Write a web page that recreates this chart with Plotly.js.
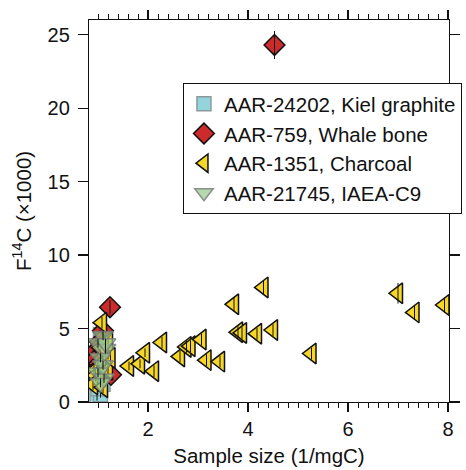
<!DOCTYPE html>
<html>
<head>
<meta charset="utf-8">
<script src="https://cdn.plot.ly/plotly-3.0.1.min.js"></script>
<style>html,body{margin:0;padding:0;background:#fff;}#chart{width:466px;height:470px;}</style>
</head>
<body>
<div id="chart"></div>
<script>
// Kiel graphite
var kielX = [0.98, 1.05, 1.00, 1.10, 0.95, 1.05, 1.10, 1.00, 1.12, 1.05];
var kielY = [0.3, 0.5, 0.9, 1.2, 1.6, 2.2, 3.0, 3.6, 4.3, 4.6];
var kielErr = [0.2, 0.2, 0.2, 0.2, 0.2, 0.2, 0.2, 0.2, 0.2, 0.2];
// Whale bone
var whaleX = [4.53, 1.24, 1.10, 1.04, 0.96, 1.08, 0.92, 1.02, 1.26];
var whaleY = [24.3, 6.45, 4.85, 4.1, 3.5, 3.3, 2.8, 2.6, 1.85];
var whaleErr = [0.95, 0.5, 0.4, 0.4, 0.4, 0.4, 0.4, 0.4, 0.4];
// Charcoal
var charX = [1.08, 1.20, 1.20, 1.15, 1.00, 0.92, 0.95, 1.05, 0.90, 1.10, 1.20, 1.05, 1.25,
             1.62, 1.84, 1.94, 2.12, 2.28, 2.64, 2.77, 2.85, 3.07, 3.17, 3.44, 3.72, 3.80, 3.88,
             4.18, 4.31, 4.50, 5.27, 7.00, 7.33, 7.93];
var charY = [5.4, 4.1, 3.3, 2.8, 2.4, 2.1, 1.8, 1.5, 1.2, 1.0, 2.2, 3.7, 3.0,
             2.45, 2.6, 3.35, 2.1, 4.05, 3.1, 3.75, 3.8, 4.25, 2.85, 2.75, 6.65, 4.75, 4.7,
             4.65, 7.8, 4.9, 3.3, 7.4, 6.1, 6.6];
var charErr = [0.4, 0.4, 0.4, 0.4, 0.4, 0.4, 0.4, 0.4, 0.4, 0.4, 0.4, 0.4, 0.4,
               0.3, 0.3, 0.3, 0.4, 0.4, 0.4, 0.4, 0.4, 0.4, 0.4, 0.4, 0.5, 0.4, 0.4,
               0.4, 0.5, 0.4, 0.4, 0.7, 0.5, 0.5];
// IAEA-C9
var c9X = [1.10, 1.00, 1.15, 1.05, 1.10, 1.00, 1.12, 1.05, 1.15];
var c9Y = [4.5, 4.0, 3.6, 3.0, 2.5, 2.0, 1.6, 1.3, 4.0];
var c9Err = [0.3, 0.3, 0.3, 0.3, 0.3, 0.3, 0.3, 0.3, 0.3];

var seriesNames = ['AAR-24202, Kiel graphite', 'AAR-759, Whale bone', 'AAR-1351, Charcoal', 'AAR-21745, IAEA-C9'];

var groups = [
  {x: kielX, y: kielY, e: kielErr, name: seriesNames[0],
   marker: {symbol: 'square', size: 14, color: '#93d4dd', line: {color: '#8a9a9c', width: 1.5}}},
  {x: whaleX, y: whaleY, e: whaleErr, name: seriesNames[1],
   marker: {symbol: 'diamond', size: 16, color: '#cc2b2b', line: {color: '#111', width: 1.5}}},
  {x: charX, y: charY, e: charErr, name: seriesNames[2],
   marker: {symbol: 'triangle-left', size: 18, color: '#f7d62a', line: {color: '#111', width: 1.5}}},
  {x: c9X, y: c9Y, e: c9Err, name: seriesNames[3],
   marker: {symbol: 'triangle-down', size: 18, color: 'rgba(150,200,140,0.7)', line: {color: 'rgba(120,120,120,0.8)', width: 1.5}}}
];

var traces = [];
groups.forEach(function (g) {
  traces.push({x: g.x, y: g.y, name: g.name, mode: 'markers', type: 'scatter', marker: g.marker});
  // error bars drawn on top of the markers
  traces.push({x: g.x, y: g.y, name: g.name, mode: 'markers', type: 'scatter', showlegend: false,
               marker: {size: 1, opacity: 0},
               error_y: {type: 'data', array: g.e, visible: true, color: '#111', thickness: 1, width: 0}});
});

var font = 'Liberation Sans, Arial, Helvetica, sans-serif';
var layout = {
  width: 466, height: 470,
  margin: {l: 89, r: 17, t: 20, b: 68, autoexpand: false},
  paper_bgcolor: '#fff', plot_bgcolor: '#fff',
  font: {family: font, size: 20, color: '#111'},
  showlegend: true,
  legend: {x: 0.261, y: 0.835, xanchor: 'left', yanchor: 'top', bgcolor: '#fff', bordercolor: '#111', borderwidth: 1,
           font: {family: font, size: 20.5, color: '#111'}, tracegroupgap: 0, traceorder: 'normal'},
  xaxis: {range: [0.82, 8.02], tickvals: [2, 4, 6, 8], ticks: 'outside', ticklen: 9, tickwidth: 1.2, tickcolor: '#111',
          showgrid: false, zeroline: false, showline: true, linecolor: '#111', linewidth: 1.2, mirror: 'ticks',
          tickfont: {family: font, size: 20},
          minor: {dtick: 0.2, tick0: 0, ticks: 'outside', ticklen: 5, tickwidth: 1, tickcolor: '#111', showgrid: false},
          title: {text: 'Sample size (1/mgC)', font: {family: font, size: 20.5}, standoff: 9}},
  yaxis: {range: [0, 26], tickvals: [0, 5, 10, 15, 20, 25], ticks: 'outside', ticklen: 10, tickwidth: 1.2, tickcolor: '#111',
          showgrid: false, zeroline: false, showline: true, linecolor: '#111', linewidth: 1.2, mirror: 'ticks',
          tickfont: {family: font, size: 20}, ticklabelstandoff: 4,
          title: {text: 'F<sup>14</sup>C (×1000)', font: {family: font, size: 20.5}, standoff: 10}}
};

Plotly.newPlot('chart', traces, layout, {displayModeBar: false, staticPlot: true});
</script>
</body>
</html>
